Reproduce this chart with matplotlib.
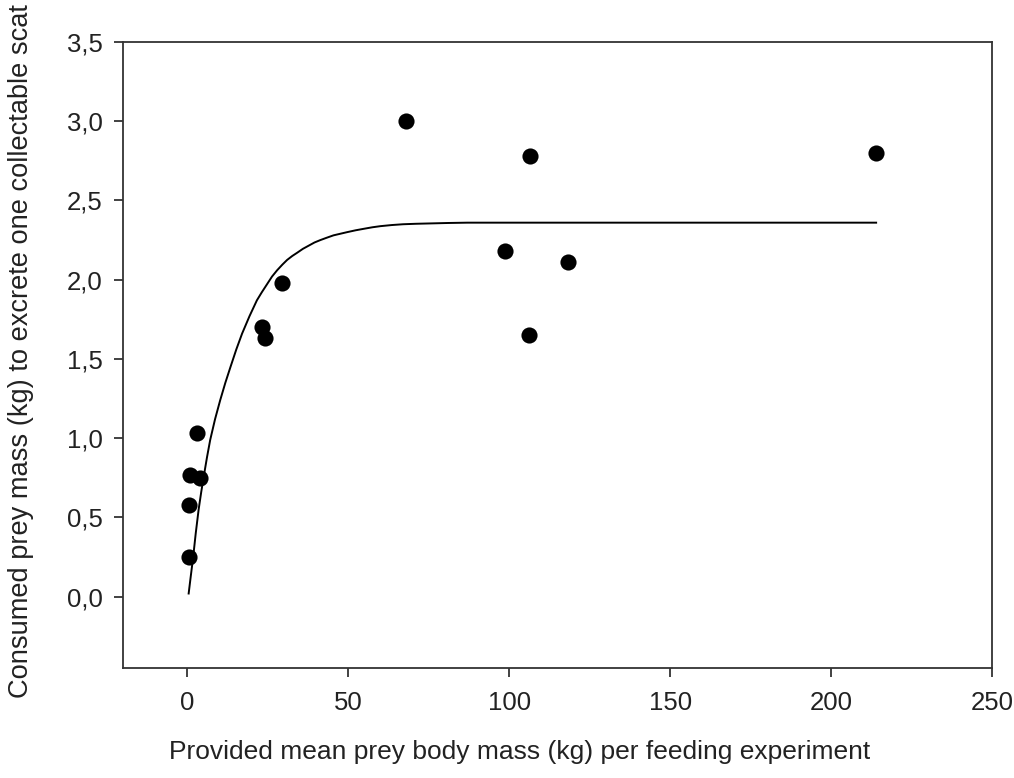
import matplotlib
matplotlib.use("Agg")
import matplotlib.pyplot as plt
from matplotlib.ticker import FuncFormatter

plt.rcParams['font.family'] = ['Liberation Sans', 'DejaVu Sans']

# observed data
prey_mass = [0.4, 0.6, 0.7, 3.8, 3.1, 23.1, 24.1, 29.5, 68.0, 106.5, 98.8, 118.3, 106.2, 214.0]
consumed = [0.25, 0.58, 0.77, 0.75, 1.03, 1.70, 1.63, 1.98, 3.00, 2.78, 2.18, 2.11, 1.65, 2.80]

# fitted curve
curve_x = [0.4, 1.0, 1.8, 2.6, 3.5, 4.3, 5.1, 6.1, 7.1, 8.6, 10.2, 11.8, 13.4, 15.2, 17.0,
           19.3, 21.6, 23.1, 24.7, 26.3, 27.9, 29.5, 31.0, 32.6, 34.1, 35.9, 37.7, 39.5,
           41.3, 43.3, 45.4, 47.5, 49.6, 52.3, 55.0, 57.5, 60.0, 63.5, 67.0, 71.0, 75.0,
           81.0, 87.0, 100.0, 150.0, 214.0]
curve_y = [0.02, 0.12, 0.25, 0.40, 0.55, 0.66, 0.76, 0.88, 0.99, 1.12, 1.24, 1.35, 1.45,
           1.56, 1.66, 1.77, 1.87, 1.92, 1.97, 2.02, 2.06, 2.095, 2.125, 2.15, 2.17, 2.195,
           2.215, 2.235, 2.25, 2.265, 2.28, 2.29, 2.30, 2.312, 2.322, 2.331, 2.338, 2.345,
           2.35, 2.353, 2.355, 2.358, 2.36, 2.36, 2.36, 2.36]

xticks = [0, 50, 100, 150, 200, 250]
yticks = [0.0, 0.5, 1.0, 1.5, 2.0, 2.5, 3.0, 3.5]

fig = plt.figure(figsize=(10.14, 7.78), dpi=100)
ax = fig.add_axes([123/1014, 1 - 668/778, (992 - 123)/1014, (668 - 42)/778])

ax.plot(curve_x, curve_y, color='black', lw=1.4, zorder=2)
ax.scatter(prey_mass, consumed, s=135, color='black', zorder=3, linewidths=0)

ax.set_xlim(-20, 250)
ax.set_ylim(-0.45, 3.5)
ax.set_xticks(xticks)
ax.set_yticks(yticks)
ax.yaxis.set_major_formatter(FuncFormatter(lambda v, p: f"{v:.1f}".replace('.', ',')))
ax.xaxis.set_major_formatter(FuncFormatter(lambda v, p: f"{int(v)}"))

for s in ax.spines.values():
    s.set_color('#333333')
    s.set_linewidth(1.3)
ax.tick_params(direction='out', length=6.5, width=1.3, color='#333333',
               labelsize=18.5, labelcolor='#222222')
ax.tick_params(axis='x', pad=10)
ax.tick_params(axis='y', pad=8)

fig.text(21/1014, 1 - 351/778, 'Consumed prey mass (kg) to excrete one collectable scat',
         rotation=90, ha='center', va='center', fontsize=19.6, color='#222222')
fig.text(520/1014, 1 - 752/778, 'Provided mean prey body mass (kg) per feeding experiment',
         ha='center', va='center', fontsize=19, color='#222222')

fig.savefig('out.png', dpi=100)
